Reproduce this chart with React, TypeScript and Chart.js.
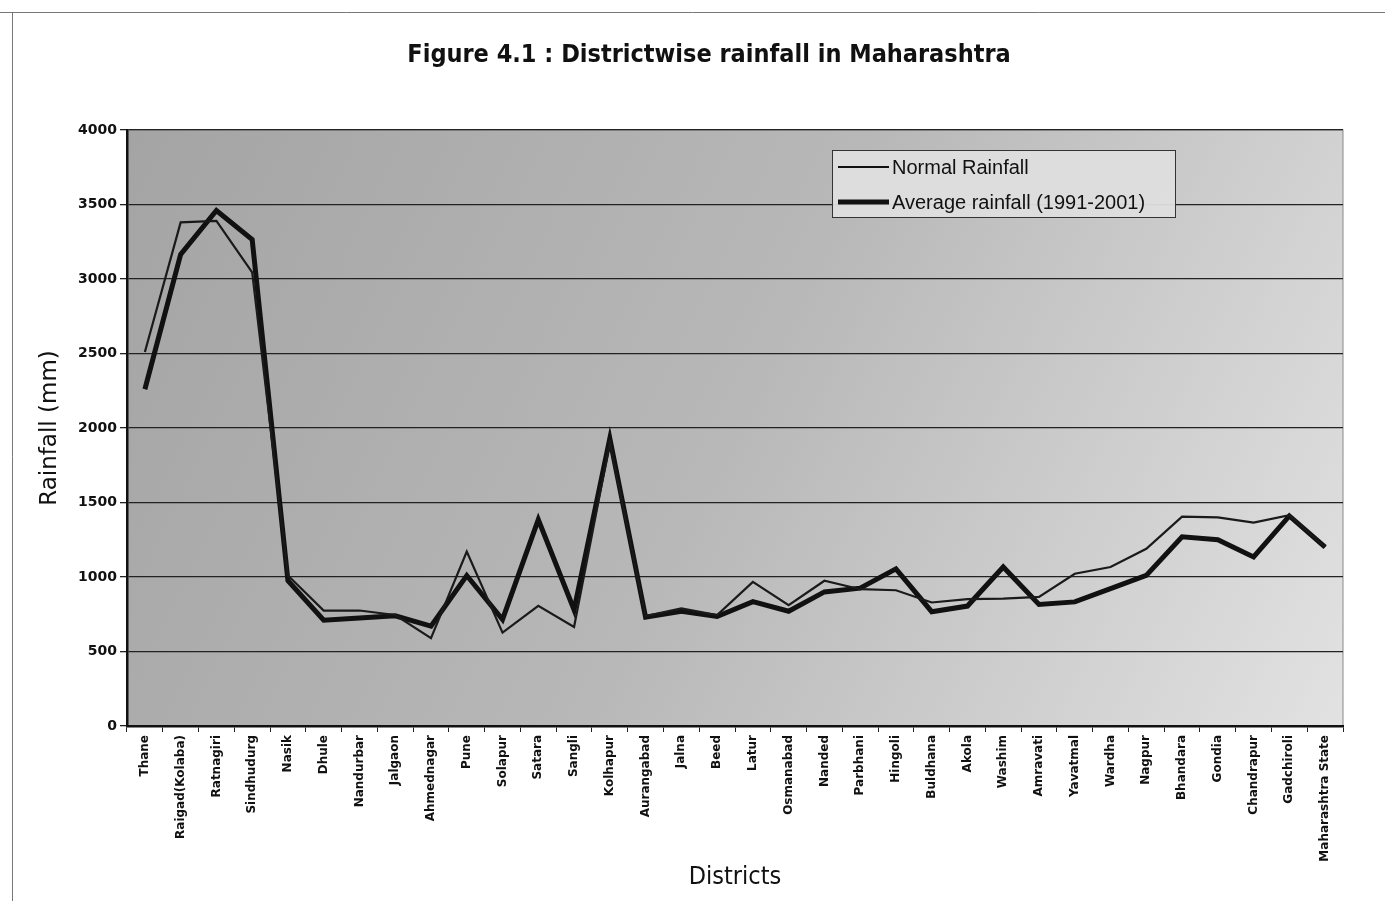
import React, { useEffect, useRef } from "react";
import { Chart, registerables } from "chart.js";

Chart.register(...registerables);

const districts = [
  "Thane", "Raigad(Kolaba)", "Ratnagiri", "Sindhudurg", "Nasik", "Dhule", "Nandurbar",
  "Jalgaon", "Ahmednagar", "Pune", "Solapur", "Satara", "Sangli", "Kolhapur",
  "Aurangabad", "Jalna", "Beed", "Latur", "Osmanabad", "Nanded", "Parbhani", "Hingoli",
  "Buldhana", "Akola", "Washim", "Amravati", "Yavatmal", "Wardha", "Nagpur", "Bhandara",
  "Gondia", "Chandrapur", "Gadchiroli", "Maharashtra State",
];

const normalRainfall = [
  2510, 3380, 3390, 3045, 1010, 775, 775, 745, 590, 1170, 627, 807, 665, 1900,
  737, 790, 745, 967, 811, 975, 918, 911, 829, 851, 855, 866, 1022, 1067, 1189,
  1405, 1400, 1365, 1415, 1200,
];

const averageRainfall = [
  2260, 3165, 3460, 3265, 975, 710, 725, 740, 670, 1010, 715, 1385, 780, 1930,
  730, 770, 735, 835, 770, 900, 925, 1055, 767, 805, 1067, 816, 833, 922, 1011,
  1270, 1250, 1135, 1410, 1200,
];

const yTicks = [0, 500, 1000, 1500, 2000, 2500, 3000, 3500, 4000];

const titleText = "Figure 4.1 : Districtwise rainfall in Maharashtra";
const seriesNames = ["Normal Rainfall", "Average rainfall (1991-2001)"];

const decorPlugin = {
  id: "decor",
  beforeDraw(chart: any) {
    const { ctx, chartArea } = chart;
    const { left, top, right, bottom } = chartArea;
    ctx.save();
    ctx.strokeStyle = "#777";
    ctx.lineWidth = 1;
    ctx.beginPath();
    ctx.moveTo(0, 12.5);
    ctx.lineTo(chart.width, 12.5);
    ctx.moveTo(12.5, 12);
    ctx.lineTo(12.5, chart.height);
    ctx.stroke();
    const g = ctx.createLinearGradient(left, top, right, bottom);
    g.addColorStop(0, "#a4a4a4");
    g.addColorStop(0.5, "#b8b8b8");
    g.addColorStop(1, "#e2e2e2");
    ctx.fillStyle = g;
    ctx.fillRect(left, top, right - left, bottom - top);
    ctx.strokeStyle = "#8a8a8a";
    ctx.lineWidth = 1;
    ctx.strokeRect(left, top, right - left, bottom - top);
    ctx.restore();
  },
  afterDraw(chart: any) {
    const { ctx } = chart;
    ctx.save();
    ctx.fillStyle = "#111";
    ctx.font = 'bold 25px "Liberation Sans Narrow", "DejaVu Sans Condensed", sans-serif';
    ctx.textAlign = "center";
    ctx.textBaseline = "middle";
    ctx.fillText(titleText, 709, 55);
    const bx = 832, by = 150, bw = 343, bh = 67;
    ctx.fillStyle = "rgba(222,222,222,0.95)";
    ctx.fillRect(bx, by, bw, bh);
    ctx.strokeStyle = "#333";
    ctx.lineWidth = 1;
    ctx.strokeRect(bx + 0.5, by + 0.5, bw, bh);
    const rows = [
      { y: 167, w: 2 },
      { y: 202, w: 5 },
    ];
    ctx.font = '20px "Liberation Sans", Arial, sans-serif';
    ctx.textAlign = "left";
    rows.forEach((r, i) => {
      ctx.strokeStyle = "#111";
      ctx.lineWidth = r.w;
      ctx.beginPath();
      ctx.moveTo(838, r.y);
      ctx.lineTo(889, r.y);
      ctx.stroke();
      ctx.fillStyle = "#111";
      ctx.fillText(seriesNames[i], 892, r.y + 1);
    });
    ctx.restore();
  },
};

export default function App() {
  const canvasRef = useRef<HTMLCanvasElement | null>(null);

  useEffect(() => {
    if (!canvasRef.current) return;
    const chart = new Chart(canvasRef.current, {
      type: "line",
      data: {
        labels: districts,
        datasets: [
          {
            label: seriesNames[0],
            data: normalRainfall,
            borderColor: "#1a1a1a",
            borderWidth: 2.2,
            pointRadius: 0,
            tension: 0,
            fill: false,
          },
          {
            label: seriesNames[1],
            data: averageRainfall,
            borderColor: "#111",
            borderWidth: 5,
            pointRadius: 0,
            tension: 0,
            fill: false,
            borderJoinStyle: "miter",
          },
        ],
      },
      options: {
        animation: false,
        responsive: true,
        maintainAspectRatio: false,
        layout: { padding: { top: 130, right: 42, left: 0, bottom: 0 } },
        plugins: {
          legend: { display: false },
          title: { display: false },
          tooltip: { enabled: false },
        },
        scales: {
          x: {
            type: "category",
            offset: true,
            afterFit(scale: any) {
              scale.height = 175;
            },
            grid: {
              display: true,
              drawOnChartArea: false,
              drawTicks: true,
              tickLength: 6,
              offset: true,
              color: "#222",
              lineWidth: 1,
            },
            border: { display: true, color: "#111", width: 2.5 },
            ticks: {
              autoSkip: false,
              minRotation: 90,
              maxRotation: 90,
              padding: 3,
              color: "#111",
              font: { family: '"DejaVu Sans", sans-serif', size: 12, weight: "bold" },
            },
            title: {
              display: true,
              text: "Districts",
              color: "#111",
              font: { family: '"DejaVu Sans Condensed", "DejaVu Sans", sans-serif', size: 25 },
              padding: { top: 0, bottom: 9 },
            },
          },
          y: {
            min: 0,
            max: 4000,
            afterFit(scale: any) {
              scale.width = 127;
            },
            afterBuildTicks(scale: any) {
              scale.ticks = yTicks.map((v) => ({ value: v }));
            },
            grid: {
              color: "#222",
              lineWidth: 1.3,
              drawTicks: true,
              tickLength: 7,
            },
            border: { display: true, color: "#111", width: 2.5 },
            ticks: {
              padding: 3,
              color: "#111",
              font: { family: '"DejaVu Sans", sans-serif', size: 14, weight: "bold" },
              callback: (v: any) => String(v),
            },
            title: {
              display: true,
              text: "Rainfall (mm)",
              color: "#111",
              font: { family: '"DejaVu Sans", sans-serif', size: 23 },
              padding: { top: 36, bottom: 0 },
            },
          },
        },
      },
      plugins: [decorPlugin],
    } as any);
    return () => chart.destroy();
  }, []);

  return (
    <div style={{ position: "fixed", left: 0, top: 0, width: 1385, height: 901, background: "#fff" }}>
      <canvas ref={canvasRef} />
    </div>
  );
}
